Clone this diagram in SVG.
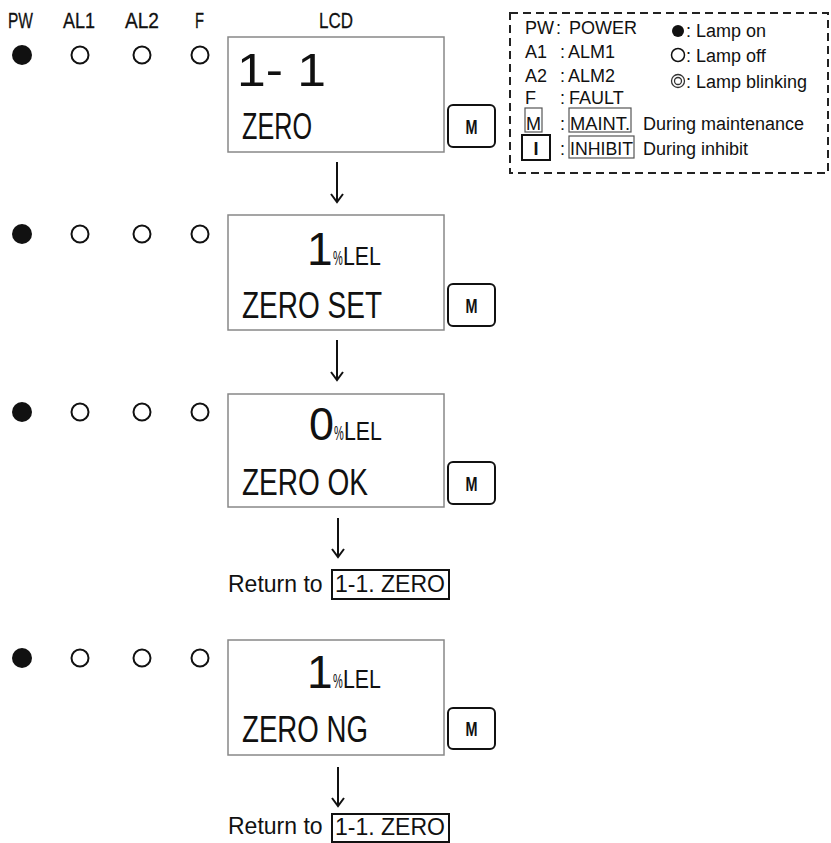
<svg xmlns="http://www.w3.org/2000/svg" width="831" height="843" viewBox="0 0 831 843">
<style>
.hd{font-family:"Liberation Sans",Arial,sans-serif;font-size:22px;fill:#111;stroke:#111;stroke-width:0.3}
.lcd{fill:#fff;stroke:#888;stroke-width:1.5}
.big{font-family:"Liberation Sans",Arial,sans-serif;font-size:46px;fill:#111}
.ln2{font-family:"Liberation Sans",Arial,sans-serif;font-size:37px;fill:#111}
.pct{font-family:"Liberation Sans",Arial,sans-serif;font-size:20px;fill:#111}
.unit{font-family:"Liberation Sans",Arial,sans-serif;font-size:26px;fill:#111}
.mbtn{fill:#fff;stroke:#111;stroke-width:2}
.mtx{font-family:"Liberation Sans",Arial,sans-serif;font-size:21px;font-weight:bold;fill:#111;text-anchor:middle}
.on{fill:#111}
.off{fill:#fff;stroke:#111;stroke-width:2}
.arr{stroke:#111;stroke-width:2;fill:none}
.ret{font-family:"Liberation Sans",Arial,sans-serif;font-size:23px;fill:#111}
.lg{font-family:"Liberation Sans",Arial,sans-serif;font-size:18px;fill:#111}
.lgb{fill:none;stroke:#555;stroke-width:1.2}
</style>
<rect width="831" height="843" fill="#fff"/>
<g id="headers">
<text class="hd" x="8" y="28" textLength="25" lengthAdjust="spacingAndGlyphs">PW</text>
<text class="hd" x="63" y="28" textLength="32" lengthAdjust="spacingAndGlyphs">AL1</text>
<text class="hd" x="125" y="28" textLength="34" lengthAdjust="spacingAndGlyphs">AL2</text>
<text class="hd" x="195" y="28" textLength="9" lengthAdjust="spacingAndGlyphs">F</text>
<text class="hd" x="319" y="28" textLength="34" lengthAdjust="spacingAndGlyphs">LCD</text>
</g>
<g id="screen1">
<circle class="on" cx="22" cy="55" r="10"/>
<circle class="off" cx="80" cy="55" r="8.5"/>
<circle class="off" cx="142" cy="55" r="8.5"/>
<circle class="off" cx="200" cy="55" r="8.5"/>
<rect class="lcd" x="228" y="37" width="216" height="115"/>
<text class="big" x="237" y="86" textLength="89" lengthAdjust="spacingAndGlyphs">1- 1</text>
<text class="ln2" x="242" y="139" textLength="70" lengthAdjust="spacingAndGlyphs">ZERO</text>
<rect class="mbtn" x="448" y="105" width="47" height="42" rx="5"/>
<text class="mtx" x="471.5" y="134" textLength="12" lengthAdjust="spacingAndGlyphs">M</text>
</g>
<g id="screen2">
<circle class="on" cx="22" cy="234" r="10"/>
<circle class="off" cx="80" cy="234" r="8.5"/>
<circle class="off" cx="142" cy="234" r="8.5"/>
<circle class="off" cx="200" cy="234" r="8.5"/>
<rect class="lcd" x="228" y="215" width="216" height="115"/>
<text class="big" x="307" y="265">1</text>
<text class="pct" transform="translate(333,265) scale(0.55,1)">%</text>
<text class="unit" transform="translate(343,265) scale(0.82,1)">LEL</text>
<text class="ln2" x="242" y="318" textLength="140" lengthAdjust="spacingAndGlyphs">ZERO SET</text>
<rect class="mbtn" x="448" y="284" width="47" height="42" rx="5"/>
<text class="mtx" x="471.5" y="313" textLength="12" lengthAdjust="spacingAndGlyphs">M</text>
</g>
<g id="screen3">
<circle class="on" cx="22" cy="412" r="10"/>
<circle class="off" cx="80" cy="412" r="8.5"/>
<circle class="off" cx="142" cy="412" r="8.5"/>
<circle class="off" cx="200" cy="412" r="8.5"/>
<rect class="lcd" x="228" y="394" width="216" height="113"/>
<text class="big" x="309" y="440" textLength="25" lengthAdjust="spacingAndGlyphs">0</text>
<text class="pct" transform="translate(334,440) scale(0.55,1)">%</text>
<text class="unit" transform="translate(344,440) scale(0.82,1)">LEL</text>
<text class="ln2" x="242" y="495" textLength="126" lengthAdjust="spacingAndGlyphs">ZERO OK</text>
<rect class="mbtn" x="448" y="462" width="47" height="42" rx="5"/>
<text class="mtx" x="471.5" y="491" textLength="12" lengthAdjust="spacingAndGlyphs">M</text>
</g>
<g id="return1">
<text class="ret" x="228" y="592">Return to </text>
<rect x="332" y="570" width="117" height="29" fill="none" stroke="#111" stroke-width="2"/>
<text class="ret" x="335" y="592">1-1. ZERO</text>
</g>
<g id="screen4">
<circle class="on" cx="22" cy="658" r="10"/>
<circle class="off" cx="80" cy="658" r="8.5"/>
<circle class="off" cx="142" cy="658" r="8.5"/>
<circle class="off" cx="200" cy="658" r="8.5"/>
<rect class="lcd" x="228" y="640" width="216" height="115"/>
<text class="big" x="307" y="688">1</text>
<text class="pct" transform="translate(333,688) scale(0.55,1)">%</text>
<text class="unit" transform="translate(343,688) scale(0.82,1)">LEL</text>
<text class="ln2" x="242" y="742" textLength="126" lengthAdjust="spacingAndGlyphs">ZERO NG</text>
<rect class="mbtn" x="448" y="708" width="47" height="41" rx="5"/>
<text class="mtx" x="471.5" y="736" textLength="12" lengthAdjust="spacingAndGlyphs">M</text>
</g>
<g id="return2">
<text class="ret" x="228" y="834">Return to </text>
<rect x="332" y="814" width="117" height="28" fill="none" stroke="#111" stroke-width="2"/>
<text class="ret" x="335" y="835">1-1. ZERO</text>
</g>
<g id="connectors">
<path class="arr" d="M337 162V202M331 194L337 202L343 194"/>
<path class="arr" d="M337 340V380M331 372L337 380L343 372"/>
<path class="arr" d="M338 518V557M332 549L338 557L344 549"/>
<path class="arr" d="M338 767V806M332 798L338 806L344 798"/>
</g>
<g id="legend">
<rect x="510" y="13" width="318" height="160" fill="none" stroke="#222" stroke-width="2" stroke-dasharray="8 5"/>
<text class="lg" x="525" y="34">PW</text><text class="lg" x="556" y="34">:</text><text class="lg" x="569" y="34">POWER</text>
<text class="lg" x="525" y="58">A1</text><text class="lg" x="560" y="58">:</text><text class="lg" x="568" y="58">ALM1</text>
<text class="lg" x="525" y="82">A2</text><text class="lg" x="560" y="82">:</text><text class="lg" x="568" y="82">ALM2</text>
<text class="lg" x="525" y="104">F</text><text class="lg" x="560" y="104">:</text><text class="lg" x="569" y="104">FAULT</text>
<rect class="lgb" x="525" y="108" width="17" height="24"/>
<text class="lg" x="526" y="130" fill="#444" textLength="15" lengthAdjust="spacingAndGlyphs">M</text>
<text class="lg" x="560" y="130">:</text>
<rect class="lgb" x="569" y="108" width="62" height="24"/>
<text class="lg" x="570" y="130" textLength="60" lengthAdjust="spacingAndGlyphs">MAINT.</text>
<text class="lg" x="643" y="130">During maintenance</text>
<rect x="522" y="135" width="28" height="25" fill="none" stroke="#111" stroke-width="2"/>
<text class="lg" x="536" y="155" text-anchor="middle" font-weight="bold">I</text>
<text class="lg" x="560" y="155">:</text>
<rect class="lgb" x="569" y="136" width="65" height="22"/>
<text class="lg" x="570" y="155" textLength="63" lengthAdjust="spacingAndGlyphs">INHIBIT</text>
<text class="lg" x="643" y="155">During inhibit</text>
<circle cx="678" cy="31" r="6" fill="#111"/>
<text class="lg" x="686" y="37">: Lamp on</text>
<circle cx="678" cy="55" r="6.5" fill="#fff" stroke="#111" stroke-width="1.5"/>
<text class="lg" x="686" y="62">: Lamp off</text>
<circle cx="678" cy="81" r="6.5" fill="#fff" stroke="#333" stroke-width="1.3"/>
<circle cx="678" cy="81" r="3.5" fill="#fff" stroke="#333" stroke-width="1.3"/>
<text class="lg" x="686" y="88">: Lamp blinking</text>
</g>
</svg>
